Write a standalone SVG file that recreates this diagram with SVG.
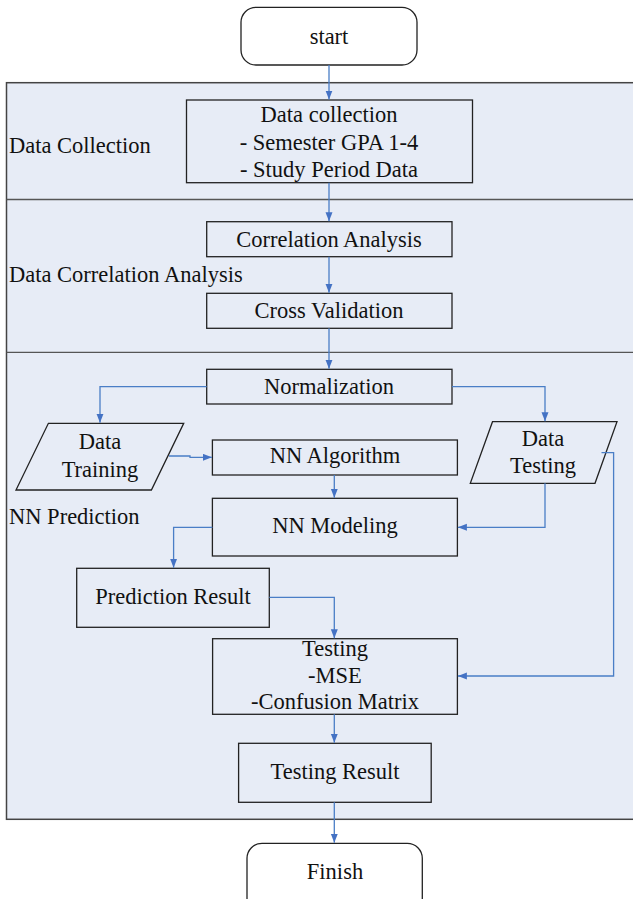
<svg xmlns="http://www.w3.org/2000/svg" width="633" height="899" viewBox="0 0 633 899">
<style>
text{font-family:"Liberation Serif","Times New Roman",serif;font-size:22.5px;fill:#111;}
.c{text-anchor:middle;}
.box{fill:none;stroke:#222;stroke-width:1.3;}
.term{fill:#fff;stroke:#222;stroke-width:1.3;}
.band{fill:#e7ecf6;stroke:#444;stroke-width:1.5;}
.div{stroke:#555;stroke-width:1.3;}
.con{fill:none;stroke:#4a7ec6;stroke-width:1.3;marker-end:url(#ah);}
</style>
<defs>
<marker id="ah" markerUnits="userSpaceOnUse" markerWidth="10" markerHeight="8" refX="9" refY="3.5" orient="auto">
<path d="M0,0 L9,3.5 L0,7 z" fill="#4472c4"/>
</marker>
</defs>
<rect width="633" height="899" fill="#fff"/>
<g id="bands">
<rect class="band" x="6.5" y="82.7" width="640" height="736.6"/>
<line class="div" x1="6.5" y1="199.5" x2="633" y2="199.5"/>
<line class="div" x1="6.5" y1="352.3" x2="633" y2="352.3"/>
<text x="9" y="153">Data Collection</text>
<text x="9" y="282">Data Correlation Analysis</text>
<text x="9" y="524">NN Prediction</text>
</g>
<g id="start">
<rect class="term" x="241" y="7.3" width="176" height="57.7" rx="15" ry="15"/>
<text class="c" x="329" y="43.5">start</text>
</g>
<g id="datacollection">
<rect class="box" x="186.5" y="100" width="286" height="82.7"/>
<text class="c" x="329" y="121.5">Data collection</text>
<text class="c" x="329" y="150">- Semester GPA 1-4</text>
<text class="c" x="329" y="177">- Study Period Data</text>
</g>
<g id="correlation">
<rect class="box" x="206.7" y="221.7" width="245.3" height="35"/>
<text class="c" x="329" y="246.5">Correlation Analysis</text>
</g>
<g id="crossvalidation">
<rect class="box" x="206.7" y="293.3" width="245.3" height="35"/>
<text class="c" x="329" y="318.3">Cross Validation</text>
</g>
<g id="normalization">
<rect class="box" x="206.7" y="369.3" width="245.3" height="34.7"/>
<text class="c" x="329" y="394">Normalization</text>
</g>
<g id="datatraining">
<polygon class="box" points="48.4,423.3 183.7,423.3 151.4,490 16,490"/>
<text class="c" x="100" y="449.3">Data</text>
<text class="c" x="100" y="476.7">Training</text>
</g>
<g id="datatesting">
<polygon class="box" points="492.5,421.7 617,421.7 595,483.3 470.3,483.3"/>
<text class="c" x="543" y="446">Data</text>
<text class="c" x="543" y="472.7">Testing</text>
</g>
<g id="nnalgorithm">
<rect class="box" x="212.4" y="440" width="245" height="35"/>
<text class="c" x="335" y="463.3">NN Algorithm</text>
</g>
<g id="nnmodeling">
<rect class="box" x="212.4" y="498.3" width="245" height="57.7"/>
<text class="c" x="335" y="533.3">NN Modeling</text>
</g>
<g id="predictionresult">
<rect class="box" x="76.7" y="568.3" width="192.6" height="59"/>
<text class="c" x="173" y="604">Prediction Result</text>
</g>
<g id="testing">
<rect class="box" x="212.6" y="638.7" width="244.8" height="75.6"/>
<text class="c" x="335" y="656">Testing</text>
<text class="c" x="335" y="682.7">-MSE</text>
<text class="c" x="335" y="709.3">-Confusion Matrix</text>
</g>
<g id="testingresult">
<rect class="box" x="238.6" y="743.3" width="192.6" height="59"/>
<text class="c" x="335" y="779.3">Testing Result</text>
</g>
<g id="finish">
<rect class="term" x="247" y="843.3" width="175.3" height="70" rx="15" ry="15"/>
<text class="c" x="335" y="879.3">Finish</text>
</g>
<g id="connectors">
<path class="con" d="M329,65 V99.5"/>
<path class="con" d="M329,182.7 V221.2"/>
<path class="con" d="M329,256.7 V292.8"/>
<path class="con" d="M329,328.3 V368.8"/>
<path class="con" d="M206.7,386.7 H100 V422.8"/>
<path class="con" d="M452,386.7 H545 V421.2"/>
<path class="con" d="M169,456 H190 V457.3 H211.9"/>
<path class="con" d="M334.3,475 V497.8"/>
<path class="con" d="M545,483.3 V527.3 H457.9"/>
<path class="con" d="M601.5,452.7 H613.6 V676 H457.9"/>
<path class="con" d="M212.4,527.3 H173.6 V567.8"/>
<path class="con" d="M269.3,597.3 H334.3 V638.2"/>
<path class="con" d="M334.3,714.3 V742.8"/>
<path class="con" d="M334.3,802.3 V842.8"/>
</g>
</svg>
